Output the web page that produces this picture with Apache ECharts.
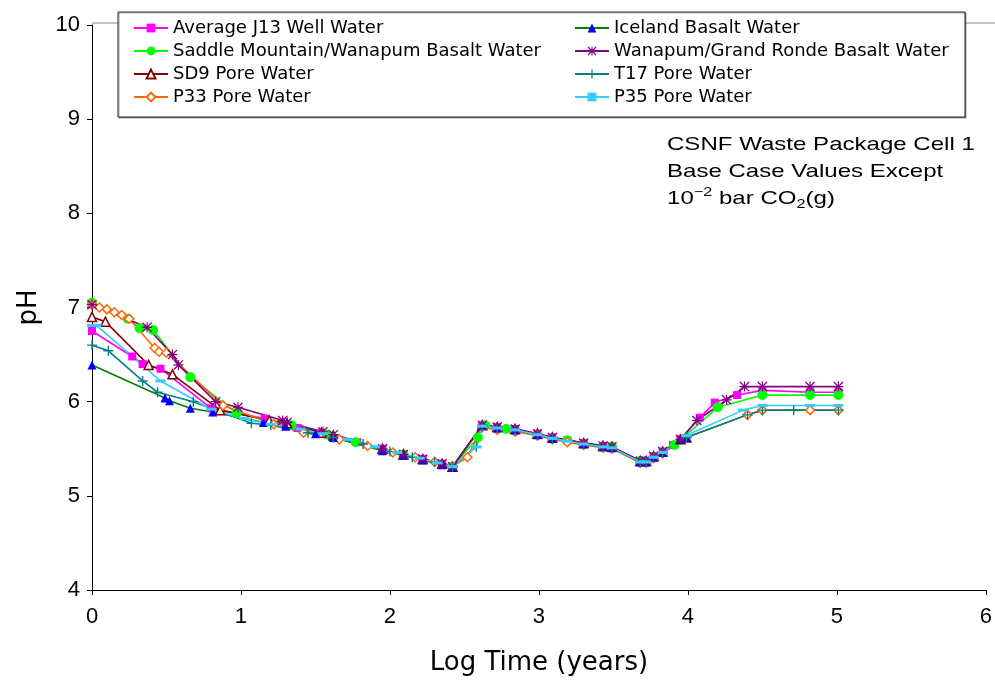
<!DOCTYPE html>
<html><head><meta charset="utf-8">
<script src="https://cdn.jsdelivr.net/npm/echarts@6/dist/echarts.min.js"></script>
<style>html,body{margin:0;padding:0;background:#fff}#c{width:995px;height:681px}</style>
</head><body><div id="c"></div>
<script>
const seriesNames = ['Average J13 Well Water','Saddle Mountain/Wanapum Basalt Water','SD9 Pore Water','P33 Pore Water','Iceland Basalt Water','Wanapum/Grand Ronde Basalt Water','T17 Pore Water','P35 Pore Water'];
const xTicks = [0,1,2,3,4,5,6];
const yTicks = [4,5,6,7,8,9,10];

const j13X = [0,0.27,0.34,0.46,0.80,1.16,1.38,1.54,1.78,1.95,2.09,2.22,2.35,2.42,2.62,2.72,2.84,2.99,3.09,3.19,3.30,3.43,3.49,3.68,3.72,3.77,3.83,3.90,3.95,4.08,4.18,4.33,4.50,4.82,5.01];
const j13Y = [6.75,6.48,6.40,6.35,5.93,5.82,5.72,5.67,5.57,5.50,5.44,5.39,5.34,5.31,5.75,5.73,5.71,5.66,5.62,5.59,5.56,5.53,5.52,5.37,5.37,5.42,5.47,5.54,5.60,5.83,5.99,6.07,6.12,6.10,6.10];

const saddleX = [0,0.24,0.32,0.41,0.66,0.97,1.34,1.58,1.77,2.09,2.42,2.59,2.64,2.78,3.19,3.49,3.68,3.91,4.20,4.50,4.82,5.01];
const saddleY = [7.05,6.88,6.78,6.76,6.26,5.88,5.75,5.65,5.57,5.44,5.31,5.62,5.75,5.71,5.59,5.52,5.37,5.54,5.94,6.07,6.07,6.07];

const sd9X = [0,0.09,0.38,0.54,0.86,1.19,1.31,1.54,1.62,1.95,2.09,2.22,2.35,2.42,2.62,2.72,2.84,2.99,3.09,3.30,3.43,3.49,3.68,3.72,3.77,3.83,3.95,3.99];
const sd9Y = [6.90,6.85,6.39,6.29,5.91,5.80,5.77,5.67,5.64,5.50,5.44,5.39,5.34,5.31,5.75,5.73,5.71,5.66,5.62,5.56,5.53,5.52,5.37,5.37,5.42,5.47,5.60,5.62];

const p33X = [0,0.05,0.10,0.15,0.20,0.25,0.42,0.45,0.50,0.88,1.22,1.42,1.66,1.85,2.02,2.17,2.30,2.42,2.52,2.62,2.72,2.84,2.99,3.09,3.19,3.30,3.43,3.49,3.68,3.72,3.77,3.83,3.99,4.40,4.50,4.82,5.01];
const p33Y = [7.03,7.00,6.98,6.95,6.92,6.88,6.57,6.53,6.52,5.96,5.76,5.67,5.60,5.53,5.46,5.41,5.36,5.31,5.41,5.73,5.70,5.68,5.64,5.60,5.57,5.54,5.51,5.50,5.35,5.35,5.40,5.45,5.62,5.86,5.91,5.91,5.91];

const icelandX = [0,0.49,0.52,0.66,0.81,1.15,1.30,1.50,1.62,1.95,2.09,2.22,2.35,2.42,2.62,2.72,2.84,2.99,3.09,3.30,3.43,3.49,3.68,3.72,3.77,3.83,3.95,3.99];
const icelandY = [6.39,6.04,6.01,5.93,5.89,5.78,5.74,5.66,5.62,5.48,5.43,5.38,5.33,5.30,5.75,5.72,5.70,5.65,5.61,5.55,5.52,5.51,5.36,5.36,5.41,5.46,5.60,5.62];

const wanapumX = [0,0.37,0.54,0.58,0.83,0.98,1.28,1.31,1.55,1.62,1.95,2.09,2.22,2.35,2.42,2.62,2.72,2.84,2.99,3.09,3.30,3.43,3.49,3.68,3.72,3.77,3.83,3.95,4.06,4.26,4.38,4.50,4.82,5.01];
const wanapumY = [7.03,6.79,6.50,6.39,6.00,5.94,5.80,5.78,5.68,5.65,5.50,5.44,5.39,5.34,5.31,5.75,5.73,5.71,5.66,5.62,5.56,5.53,5.52,5.37,5.37,5.42,5.47,5.60,5.80,6.02,6.16,6.16,6.16,6.16];

const t17X = [0,0.11,0.34,0.44,0.68,1.07,1.20,1.45,1.62,1.82,2.00,2.15,2.30,2.42,2.58,2.62,2.72,2.84,2.99,3.09,3.30,3.43,3.49,3.68,3.72,3.77,3.83,3.99,4.40,4.50,4.71,5.01];
const t17Y = [6.60,6.54,6.22,6.10,6.00,5.77,5.75,5.67,5.62,5.55,5.47,5.41,5.36,5.31,5.52,5.74,5.72,5.70,5.65,5.61,5.55,5.52,5.51,5.36,5.36,5.41,5.46,5.62,5.86,5.91,5.91,5.91];

const p35X = [0,0.03,0.46,0.80,1.02,1.20,1.40,1.55,1.72,1.90,2.05,2.20,2.32,2.42,2.58,2.62,2.72,2.84,2.99,3.09,3.19,3.30,3.43,3.49,3.68,3.72,3.77,3.83,3.99,4.37,4.50,4.82,5.01];
const p35Y = [6.81,6.81,6.22,5.92,5.82,5.76,5.71,5.66,5.60,5.52,5.46,5.40,5.35,5.31,5.52,5.74,5.72,5.70,5.65,5.61,5.58,5.55,5.52,5.51,5.36,5.36,5.41,5.46,5.64,5.91,5.96,5.96,5.96];

const pair = (xs, ys) => xs.map((x, i) => [x, ys[i]]);
const FONT = 'Liberation Sans, Arial, sans-serif';
const WIDE = 'DejaVu Sans, sans-serif';
const plusPath = 'path://M4.3,0 L5.7,0 L5.7,4.3 L10,4.3 L10,5.7 L5.7,5.7 L5.7,10 L4.3,10 L4.3,5.7 L0,5.7 L0,4.3 L4.3,4.3 Z';
const starPath = 'path://M4.4,0 L5.6,0 L5.6,4.4 L10,4.4 L10,5.6 L5.6,5.6 L5.6,10 L4.4,10 L4.4,5.6 L0,5.6 L0,4.4 L4.4,4.4 Z M0,0.9 L0.9,0 L10,9.1 L9.1,10 Z M9.1,0 L10,0.9 L0.9,10 L0,9.1 Z';

function mk(name, xs, ys, lineColor, symbol, size, itemStyle) {
  return {
    name, type: 'line', data: pair(xs, ys),
    symbol, symbolSize: size, showAllSymbol: true,
    lineStyle: { color: lineColor, width: 1.6 },
    itemStyle: itemStyle,
    emphasis: { disabled: true },
    animation: false
  };
}

const series = [
  mk(seriesNames[0], j13X, j13Y, '#FF00FF', 'rect', 8, { color: '#FF00FF' }),
  mk(seriesNames[1], saddleX, saddleY, '#00FF00', 'circle', 10, { color: '#00FF00' }),
  mk(seriesNames[2], sd9X, sd9Y, '#800000', 'triangle', 9, { color: '#fff', borderColor: '#800000', borderWidth: 1.5 }),
  mk(seriesNames[3], p33X, p33Y, '#FF6600', 'diamond', 9, { color: '#fff', borderColor: '#FF6600', borderWidth: 1.5 }),
  mk(seriesNames[4], icelandX, icelandY, '#008000', 'triangle', 9, { color: '#0000FF' }),
  mk(seriesNames[5], wanapumX, wanapumY, '#800080', starPath, 10, { color: '#800080' }),
  mk(seriesNames[6], t17X, t17Y, '#008080', plusPath, 10, { color: '#008080' }),
  mk(seriesNames[7], p35X, p35Y, '#33CCFF', 'rect', [10, 3], { color: '#33CCFF' })
];

const legendCommon = {
  orient: 'vertical', top: 14, itemWidth: 34, itemHeight: 11, itemGap: 5,
  textStyle: { fontSize: 18, fontFamily: WIDE, color: '#000', lineHeight: 18 },
  selectedMode: false, z: 10
};

const chart = echarts.init(document.getElementById('c'), null, { renderer: 'canvas' });
chart.setOption({
  backgroundColor: '#fff',
  animation: false,
  grid: { left: 92, right: 9, top: 25, bottom: 91, containLabel: false },
  xAxis: {
    type: 'value', min: xTicks[0], max: xTicks[xTicks.length - 1], interval: 1,
    name: 'Log Time (years)', nameLocation: 'middle', nameGap: 60,
    nameTextStyle: { fontSize: 26, fontFamily: WIDE, color: '#000' },
    axisLine: { show: true, lineStyle: { color: '#000', width: 1 } },
    axisTick: { show: true, inside: false, length: 5, lineStyle: { color: '#000' } },
    axisLabel: { fontSize: 22, fontFamily: FONT, color: '#000', margin: 16 },
    splitLine: { show: false }
  },
  yAxis: {
    type: 'value', min: yTicks[0], max: yTicks[yTicks.length - 1], interval: 1,
    name: 'pH', nameLocation: 'middle', nameGap: 50, nameRotate: 90,
    nameTextStyle: { fontSize: 26, fontFamily: WIDE, color: '#000' },
    axisLine: { show: true, lineStyle: { color: '#000', width: 1 } },
    axisTick: { show: true, inside: false, length: 5, lineStyle: { color: '#000' } },
    axisLabel: { fontSize: 22, fontFamily: FONT, color: '#000', margin: 12 },
    splitLine: { show: false }
  },
  legend: [
    Object.assign({}, legendCommon, { left: 128, data: seriesNames.slice(0, 4) }),
    Object.assign({}, legendCommon, { left: 569, data: seriesNames.slice(4, 8) })
  ],
  graphic: [
    { type: 'line', z: 4, shape: { x1: 92, y1: 23, x2: 995, y2: 23 },
      style: { stroke: '#888', lineWidth: 1 } },
    { type: 'rect', z: 5, shape: { x: 118, y: 12, width: 847, height: 105 },
      style: { fill: '#fff', stroke: '#222', lineWidth: 1, shadowColor: 'rgba(0,0,0,0.35)', shadowOffsetX: 1, shadowOffsetY: 1, shadowBlur: 0 } },
    { type: 'text', z: 5, x: 667, y: 145, scaleX: 1.3,
      style: { text: 'CSNF Waste Package Cell 1', fontSize: 18.5, fontFamily: FONT, fill: '#000', verticalAlign: 'middle' } },
    { type: 'text', z: 5, x: 667, y: 172, scaleX: 1.3,
      style: { text: 'Base Case Values Except', fontSize: 18.5, fontFamily: FONT, fill: '#000', verticalAlign: 'middle' } },
    { type: 'text', z: 5, x: 667, y: 199, scaleX: 1.3,
      style: {
        text: '{a|10}{sup|−2}{a| bar CO}{sub|2}{a|(g)}',
        verticalAlign: 'middle',
        rich: {
          a: { fontSize: 18.5, fontFamily: FONT, fill: '#000', lineHeight: 30, verticalAlign: 'middle' },
          sup: { fontSize: 12.5, fontFamily: FONT, fill: '#000', lineHeight: 30, padding: [0, 0, 12, 0], verticalAlign: 'middle' },
          sub: { fontSize: 12.5, fontFamily: FONT, fill: '#000', lineHeight: 30, padding: [12, 0, 0, 0], verticalAlign: 'middle' }
        }
      } }
  ],
  series
});
</script></body></html>
